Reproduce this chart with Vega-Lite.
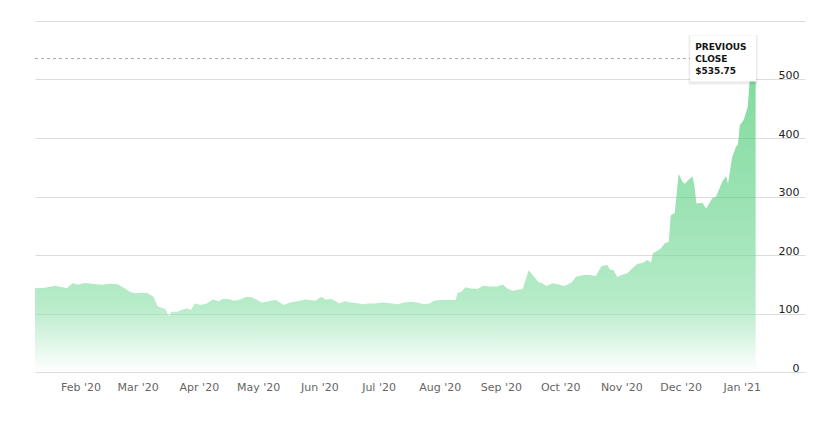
{
  "$schema": "https://vega.github.io/schema/vega-lite/v6.json",
  "width": 770,
  "height": 351,
  "autosize": {"type": "none"},
  "padding": {"left": 35, "top": 21, "right": 35, "bottom": 58},
  "background": "#ffffff",
  "config": {"view": {"stroke": null}, "font": "DejaVu Sans"},
  "datasets": {
    "prices": [
      {"date": "2020-01-09", "close": 143},
      {"date": "2020-01-14", "close": 144},
      {"date": "2020-01-19", "close": 147.5},
      {"date": "2020-01-23", "close": 145},
      {"date": "2020-01-25", "close": 143},
      {"date": "2020-01-28", "close": 151.6},
      {"date": "2020-01-31", "close": 149},
      {"date": "2020-02-03", "close": 152},
      {"date": "2020-02-07", "close": 151},
      {"date": "2020-02-12", "close": 149},
      {"date": "2020-02-16", "close": 151},
      {"date": "2020-02-20", "close": 150},
      {"date": "2020-02-24", "close": 142},
      {"date": "2020-02-26", "close": 137},
      {"date": "2020-02-29", "close": 134.5},
      {"date": "2020-03-04", "close": 135.6},
      {"date": "2020-03-06", "close": 134.5},
      {"date": "2020-03-09", "close": 128.7},
      {"date": "2020-03-11", "close": 112.8},
      {"date": "2020-03-13", "close": 110},
      {"date": "2020-03-15", "close": 107.5},
      {"date": "2020-03-17", "close": 94.5},
      {"date": "2020-03-18", "close": 103},
      {"date": "2020-03-21", "close": 103},
      {"date": "2020-03-23", "close": 106},
      {"date": "2020-03-26", "close": 109},
      {"date": "2020-03-28", "close": 106},
      {"date": "2020-03-30", "close": 117},
      {"date": "2020-04-02", "close": 114.5},
      {"date": "2020-04-05", "close": 117},
      {"date": "2020-04-08", "close": 124},
      {"date": "2020-04-11", "close": 121},
      {"date": "2020-04-13", "close": 125},
      {"date": "2020-04-16", "close": 125},
      {"date": "2020-04-19", "close": 122},
      {"date": "2020-04-22", "close": 124},
      {"date": "2020-04-25", "close": 128.7},
      {"date": "2020-04-28", "close": 127.6},
      {"date": "2020-05-03", "close": 118.5},
      {"date": "2020-05-06", "close": 121},
      {"date": "2020-05-10", "close": 123},
      {"date": "2020-05-14", "close": 114.5},
      {"date": "2020-05-17", "close": 119},
      {"date": "2020-05-21", "close": 121},
      {"date": "2020-05-25", "close": 124},
      {"date": "2020-05-30", "close": 122},
      {"date": "2020-06-02", "close": 128.7},
      {"date": "2020-06-04", "close": 124},
      {"date": "2020-06-07", "close": 125},
      {"date": "2020-06-09", "close": 122},
      {"date": "2020-06-11", "close": 117},
      {"date": "2020-06-14", "close": 121},
      {"date": "2020-06-17", "close": 119},
      {"date": "2020-06-21", "close": 117},
      {"date": "2020-06-23", "close": 115.7},
      {"date": "2020-06-26", "close": 117},
      {"date": "2020-06-29", "close": 117},
      {"date": "2020-07-03", "close": 119},
      {"date": "2020-07-08", "close": 117},
      {"date": "2020-07-11", "close": 116},
      {"date": "2020-07-14", "close": 119},
      {"date": "2020-07-18", "close": 120},
      {"date": "2020-07-21", "close": 118.5},
      {"date": "2020-07-24", "close": 116},
      {"date": "2020-07-27", "close": 117},
      {"date": "2020-07-29", "close": 122},
      {"date": "2020-08-01", "close": 123},
      {"date": "2020-08-09", "close": 123},
      {"date": "2020-08-10", "close": 135},
      {"date": "2020-08-12", "close": 137},
      {"date": "2020-08-14", "close": 145},
      {"date": "2020-08-16", "close": 143},
      {"date": "2020-08-20", "close": 142},
      {"date": "2020-08-23", "close": 147.5},
      {"date": "2020-08-26", "close": 146},
      {"date": "2020-08-30", "close": 146},
      {"date": "2020-09-02", "close": 149.5},
      {"date": "2020-09-04", "close": 143},
      {"date": "2020-09-07", "close": 139},
      {"date": "2020-09-10", "close": 141},
      {"date": "2020-09-12", "close": 142},
      {"date": "2020-09-14", "close": 163},
      {"date": "2020-09-15", "close": 174},
      {"date": "2020-09-17", "close": 166},
      {"date": "2020-09-20", "close": 154},
      {"date": "2020-09-22", "close": 151.5},
      {"date": "2020-09-24", "close": 147},
      {"date": "2020-09-27", "close": 151.5},
      {"date": "2020-09-30", "close": 150},
      {"date": "2020-10-03", "close": 147},
      {"date": "2020-10-05", "close": 150},
      {"date": "2020-10-07", "close": 154},
      {"date": "2020-10-09", "close": 163},
      {"date": "2020-10-13", "close": 166},
      {"date": "2020-10-16", "close": 166},
      {"date": "2020-10-19", "close": 164},
      {"date": "2020-10-22", "close": 181},
      {"date": "2020-10-25", "close": 183},
      {"date": "2020-10-26", "close": 175.5},
      {"date": "2020-10-28", "close": 174},
      {"date": "2020-10-30", "close": 162},
      {"date": "2020-11-01", "close": 166},
      {"date": "2020-11-04", "close": 168.7},
      {"date": "2020-11-06", "close": 175.5},
      {"date": "2020-11-09", "close": 184.6},
      {"date": "2020-11-12", "close": 186.8},
      {"date": "2020-11-14", "close": 191.5},
      {"date": "2020-11-16", "close": 186.8},
      {"date": "2020-11-17", "close": 203},
      {"date": "2020-11-21", "close": 211},
      {"date": "2020-11-23", "close": 220},
      {"date": "2020-11-25", "close": 222.7},
      {"date": "2020-11-26", "close": 268},
      {"date": "2020-11-28", "close": 272},
      {"date": "2020-11-30", "close": 339},
      {"date": "2020-12-02", "close": 325},
      {"date": "2020-12-03", "close": 322},
      {"date": "2020-12-05", "close": 328},
      {"date": "2020-12-07", "close": 334},
      {"date": "2020-12-08", "close": 319},
      {"date": "2020-12-09", "close": 288},
      {"date": "2020-12-12", "close": 289.4},
      {"date": "2020-12-14", "close": 279.7},
      {"date": "2020-12-17", "close": 297},
      {"date": "2020-12-19", "close": 300},
      {"date": "2020-12-22", "close": 325},
      {"date": "2020-12-24", "close": 335},
      {"date": "2020-12-25", "close": 322},
      {"date": "2020-12-27", "close": 366},
      {"date": "2020-12-29", "close": 385},
      {"date": "2020-12-30", "close": 388},
      {"date": "2020-12-31", "close": 422},
      {"date": "2021-01-02", "close": 431},
      {"date": "2021-01-04", "close": 453},
      {"date": "2021-01-05", "close": 499},
      {"date": "2021-01-06", "close": 520},
      {"date": "2021-01-07", "close": 535.75},
      {"date": "2021-01-08", "close": 555}
    ],
    "prevClose": [
      {"start": "2020-01-09", "end": "2021-01-08", "close": 535.75}
    ]
  },
  "layer": [
    {
      "data": {"name": "prices"},
      "mark": {
        "type": "area",
        "interpolate": "linear",
        "fillOpacity": 0.6,
        "fill": {
          "gradient": "linear",
          "x1": 0, "y1": 0, "x2": 0, "y2": 1,
          "stops": [
            {"offset": 0, "color": "#26c057"},
            {"offset": 0.55, "color": "#61d287"},
            {"offset": 0.8, "color": "#89dfa7"},
            {"offset": 1, "color": "#ffffff"}
          ]
        }
      },
      "encoding": {
        "x": {
          "field": "date",
          "type": "temporal",
          "scale": {
            "type": "utc",
            "domain": [
              {"year": 2020, "month": 1, "date": 9, "utc": true},
              {"year": 2021, "month": 2, "date": 2, "utc": true}
            ]
          },
          "axis": {
            "title": null,
            "values": [
              {"year": 2020, "month": 2, "date": 1, "utc": true},
              {"year": 2020, "month": 3, "date": 1, "utc": true},
              {"year": 2020, "month": 4, "date": 1, "utc": true},
              {"year": 2020, "month": 5, "date": 1, "utc": true},
              {"year": 2020, "month": 6, "date": 1, "utc": true},
              {"year": 2020, "month": 7, "date": 1, "utc": true},
              {"year": 2020, "month": 8, "date": 1, "utc": true},
              {"year": 2020, "month": 9, "date": 1, "utc": true},
              {"year": 2020, "month": 10, "date": 1, "utc": true},
              {"year": 2020, "month": 11, "date": 1, "utc": true},
              {"year": 2020, "month": 12, "date": 1, "utc": true},
              {"year": 2021, "month": 1, "date": 1, "utc": true}
            ],
            "format": "%b '%y",
            "grid": false,
            "domain": false,
            "ticks": false,
            "tickSize": 0,
            "labelPadding": 9,
            "labelAlign": "center",
            "labelFlush": false,
            "labelOverlap": false,
            "labelFont": "DejaVu Sans",
            "labelFontSize": 11,
            "labelColor": "#666666"
          }
        },
        "y": {
          "field": "close",
          "type": "quantitative",
          "scale": {"domain": [0, 600], "nice": false},
          "axis": {
            "orient": "right",
            "title": null,
            "values": [0, 100, 200, 300, 400, 500, 600],
            "labelExpr": "datum.value == 600 ? '' : datum.label",
            "domain": false,
            "ticks": false,
            "tickSize": 0,
            "labelAlign": "right",
            "labelPadding": -6,
            "labelBaseline": "alphabetic",
            "labelOffset": -1,
            "labelFont": "DejaVu Sans",
            "labelFontSize": 11,
            "labelColor": "#222222",
            "grid": true,
            "gridColor": "#dcdcdc",
            "gridWidth": 1
          }
        }
      }
    },
    {
      "data": {"name": "prevClose"},
      "mark": {"type": "rule", "strokeDash": [3, 3], "color": "#a8a8a8", "strokeWidth": 1},
      "encoding": {
        "x": {"field": "start", "type": "temporal"},
        "x2": {"field": "end"},
        "y": {"field": "close", "type": "quantitative"}
      }
    },
    {
      "data": {"name": "prevClose"},
      "mark": {"type": "point", "shape": "M-1,-0.7143L1,-0.7143L1,0.7143L-1,0.7143Z", "size": 4900, "filled": true, "color": "#000000", "opacity": 0.04, "strokeWidth": 0, "xOffset": -32.5, "yOffset": 1.5},
      "encoding": {
        "x": {"field": "end", "type": "temporal"},
        "y": {"field": "close", "type": "quantitative"}
      }
    },
    {
      "data": {"name": "prevClose"},
      "mark": {"type": "point", "shape": "M-1,-0.7059L1,-0.7059L1,0.7059L-1,0.7059Z", "size": 4624, "filled": true, "color": "#000000", "opacity": 0.05, "strokeWidth": 0, "xOffset": -32.5, "yOffset": 1},
      "encoding": {
        "x": {"field": "end", "type": "temporal"},
        "y": {"field": "close", "type": "quantitative"}
      }
    },
    {
      "data": {"name": "prevClose"},
      "mark": {"type": "point", "shape": "M-1,-0.697L1,-0.697L1,0.697L-1,0.697Z", "size": 4356, "filled": true, "color": "#ffffff", "opacity": 1, "strokeWidth": 0, "xOffset": -32.5},
      "encoding": {
        "x": {"field": "end", "type": "temporal"},
        "y": {"field": "close", "type": "quantitative"}
      }
    },
    {
      "data": {"name": "prevClose"},
      "mark": {"type": "text", "text": ["PREVIOUS", "CLOSE", "$535.75"], "align": "left", "baseline": "middle", "lineHeight": 12.3, "dx": -60.5, "dy": -12, "font": "DejaVu Sans", "fontSize": 9, "fontWeight": "bold", "color": "#141414"},
      "encoding": {
        "x": {"field": "end", "type": "temporal"},
        "y": {"field": "close", "type": "quantitative"}
      }
    }
  ]
}
